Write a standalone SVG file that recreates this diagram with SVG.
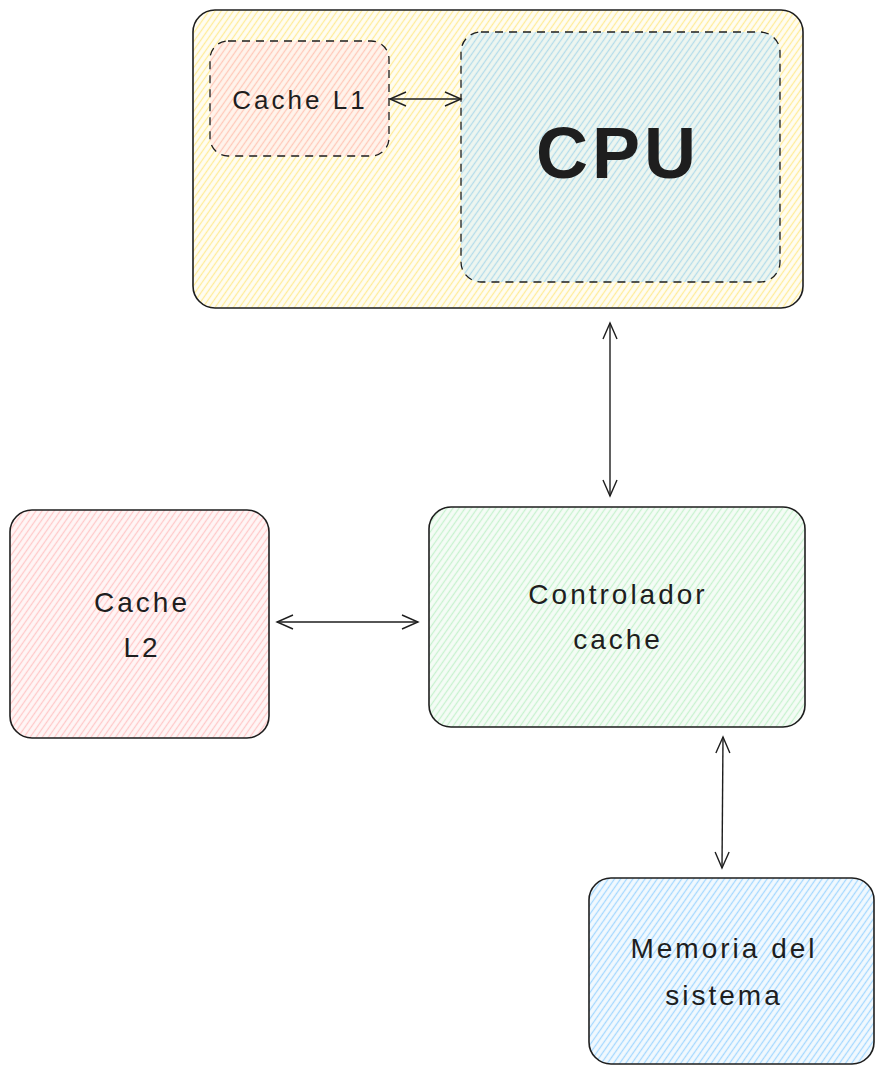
<svg xmlns="http://www.w3.org/2000/svg" width="884" height="1075" viewBox="0 0 884 1075">
<defs>
<style>
.box{stroke:#1e1e1e;stroke-width:1.6}
.dash{stroke:#1e1e1e;stroke-width:1.3;stroke-dasharray:8 6}
.lbl{font-family:"Liberation Sans",Arial,sans-serif;font-size:28px;letter-spacing:3px;fill:#1e1e1e;text-anchor:middle}
.conn{stroke:#1e1e1e;stroke-width:1.4;fill:none}
</style>
<pattern id="hY" width="5" height="5" patternUnits="userSpaceOnUse" patternTransform="rotate(-55)"><rect width="5" height="5" fill="#fffdf3"/><line x1="0" y1="2.5" x2="5" y2="2.5" stroke="#ffec99" stroke-width="1.3"/></pattern>
<pattern id="hO" width="5" height="5" patternUnits="userSpaceOnUse" patternTransform="rotate(-55)"><rect width="5" height="5" fill="#fff4ec"/><line x1="0" y1="2.5" x2="5" y2="2.5" stroke="#ffc9b9" stroke-width="1.3"/></pattern>
<pattern id="hB" width="5" height="5" patternUnits="userSpaceOnUse" patternTransform="rotate(-55)"><rect width="5" height="5" fill="#f2f9fe"/><line x1="0" y1="2.5" x2="5" y2="2.5" stroke="#a5d8ff" stroke-width="1.3"/></pattern>
<pattern id="hB2" width="5" height="5" patternUnits="userSpaceOnUse" patternTransform="rotate(-55)"><rect width="5" height="5" fill="#eef6f0"/><line x1="0" y1="2.5" x2="5" y2="2.5" stroke="#b4dcea" stroke-width="1.3"/></pattern>
<pattern id="hR" width="5" height="5" patternUnits="userSpaceOnUse" patternTransform="rotate(-55)"><rect width="5" height="5" fill="#fff6f6"/><line x1="0" y1="2.5" x2="5" y2="2.5" stroke="#ffc9c9" stroke-width="1.3"/></pattern>
<pattern id="hG" width="5" height="5" patternUnits="userSpaceOnUse" patternTransform="rotate(-55)"><rect width="5" height="5" fill="#f5fcf6"/><line x1="0" y1="2.5" x2="5" y2="2.5" stroke="#c8f2cf" stroke-width="1.3"/></pattern>
<marker id="arr" viewBox="0 0 20 20" refX="18" refY="10" markerWidth="20" markerHeight="20" markerUnits="userSpaceOnUse" orient="auto-start-reverse"><path d="M2,3 L18,10 L2,17" fill="none" stroke="#1e1e1e" stroke-width="1.4"/></marker>
</defs>
<rect width="884" height="1075" fill="#ffffff"/>
<g id="cpu-package">
<rect class="box" x="193" y="10" width="610" height="298" rx="22" fill="url(#hY)"/>
</g>
<g id="cache-l1">
<rect class="dash" x="210" y="41" width="179" height="115" rx="18" fill="url(#hO)"/>
<text class="lbl" x="300" y="109" style="font-size:26px;letter-spacing:3px">Cache L1</text>
</g>
<g id="cpu">
<rect class="dash" x="461" y="32" width="319" height="250" rx="20" fill="url(#hB2)"/>
<text class="lbl" x="618" y="178" style="font-size:72px;font-weight:bold;letter-spacing:4px">CPU</text>
</g>
<g id="cache-l2">
<rect class="box" x="10" y="510" width="259" height="228" rx="22" fill="url(#hR)"/>
<text class="lbl" x="142" y="612">Cache</text>
<text class="lbl" x="142" y="657">L2</text>
</g>
<g id="controlador">
<rect class="box" x="429" y="507" width="376" height="220" rx="22" fill="url(#hG)"/>
<text class="lbl" x="618" y="604">Controlador</text>
<text class="lbl" x="618" y="649">cache</text>
</g>
<g id="memoria">
<rect class="box" x="589" y="878" width="285" height="186" rx="22" fill="url(#hB)"/>
<text class="lbl" x="724" y="958">Memoria del</text>
<text class="lbl" x="724" y="1005">sistema</text>
</g>
<g id="connectors">
<line class="conn" x1="390" y1="99" x2="461" y2="99" marker-start="url(#arr)" marker-end="url(#arr)"/>
<line class="conn" x1="610" y1="323" x2="610" y2="496" marker-start="url(#arr)" marker-end="url(#arr)"/>
<line class="conn" x1="277" y1="622" x2="418" y2="622" marker-start="url(#arr)" marker-end="url(#arr)"/>
<line class="conn" x1="723" y1="737" x2="722" y2="868" marker-start="url(#arr)" marker-end="url(#arr)"/>
</g>
</svg>
